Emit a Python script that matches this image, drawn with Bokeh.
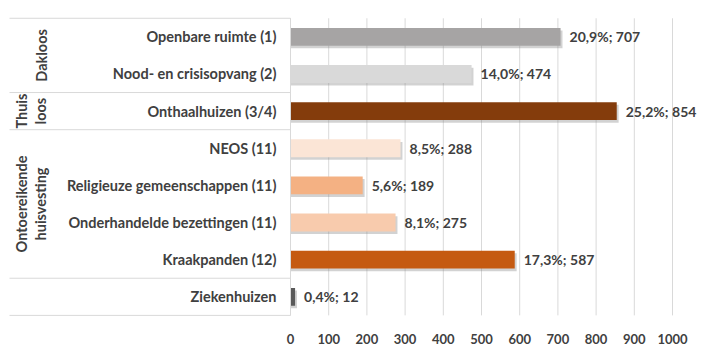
import math
from bokeh.plotting import figure
from bokeh.models import Range1d, FixedTicker, ColumnDataSource
from bokeh.core.properties import value
from bokeh.embed import file_html
from bokeh.resources import INLINE

# ---- data ----
categories = ["Openbare ruimte (1)", "Nood- en crisisopvang (2)", "Onthaalhuizen (3/4)",
              "NEOS (11)", "Religieuze gemeenschappen (11)", "Onderhandelde bezettingen (11)",
              "Kraakpanden (12)", "Ziekenhuizen"]
values = [707, 474, 854, 288, 189, 275, 587, 12]
percents = ["20,9%", "14,0%", "25,2%", "8,5%", "5,6%", "8,1%", "17,3%", "0,4%"]
colors = ["#A6A4A4", "#D9D9D9", "#843C0C", "#FBE5D6", "#F4B183", "#F8CBAD", "#C55A11", "#595959"]
groups = ["Dakloos", "Thuis\nloos", "Ontoereikende\nhuisvesting", ""]
group_sizes = [2, 1, 4, 1]
x_ticks = [0, 100, 200, 300, 400, 500, 600, 700, 800, 900, 1000]

FONT = "Lato"
TXT = "#404040"
LBL_SIZE = "14.5px"

# ---- layout helpers ----
W, H = 702, 346
zero_px = 290.0
px_per_unit = 0.382
row_h = 37.6
top_px = 18.0
frame_h = 325

x_start = -zero_px / px_per_unit
x_end = (W - zero_px) / px_per_unit
y_top = -top_px / row_h
y_bottom = (frame_h - top_px) / row_h

n = len(categories)
ypos = [i + 0.5 for i in range(n)]

p = figure(width=W, height=H, output_backend="svg", toolbar_location=None,
           x_range=Range1d(x_start, x_end), y_range=Range1d(y_bottom, y_top),
           min_border_left=0, min_border_right=0, min_border_top=0,
           min_border_bottom=H - frame_h)
p.outline_line_color = None
p.background_fill_color = "white"
p.border_fill_color = "white"
p.xgrid.visible = False
p.ygrid.visible = False
p.yaxis.visible = False

ax = p.xaxis[0]
ax.ticker = FixedTicker(ticks=x_ticks)
ax.axis_line_color = None
ax.major_tick_line_color = None
ax.minor_tick_line_color = None
ax.major_label_text_font = FONT
ax.major_label_text_font_style = "bold"
ax.major_label_text_font_size = "13px"
ax.major_label_text_color = TXT
ax.major_label_standoff = 6

# gridlines (only across the rows)
p.segment(x0=x_ticks, y0=[0] * len(x_ticks), x1=x_ticks, y1=[n] * len(x_ticks),
          line_color="#D9D9D9", line_width=1)

# table separators
bounds = [0]
for s in group_sizes:
    bounds.append(bounds[-1] + s)
left_edge = x_start + 9 / px_per_unit
p.segment(x0=[left_edge] * len(bounds), y0=bounds, x1=[0] * len(bounds), y1=bounds,
          line_color="#D9D9D9", line_width=1)

src = ColumnDataSource(dict(y=ypos, v=values, c=colors,
                            lab=[f"{a}; {b}" for a, b in zip(percents, values)],
                            cat=categories))
# shadows
p.hbar(y=[y + 0.07 for y in ypos], left=0, right=[v + 5 for v in values], height=0.48,
       fill_color="#7F7F7F", fill_alpha=0.35, line_color=None)
p.hbar(y="y", left=0, right="v", height=0.48, fill_color="c", line_color=None, source=src)

# value labels
p.text(x="v", y="y", text="lab", source=src, x_offset=9, text_align="left",
       text_baseline="middle", text_font=value(FONT), text_font_style="bold",
       text_font_size="14px", text_color=TXT)

# category labels
p.text(x=0, y="y", text="cat", source=src, x_offset=-14, text_align="right",
       text_baseline="middle", text_font=value(FONT), text_font_style="bold",
       text_font_size=LBL_SIZE, text_color=TXT)

# group labels
gy = [(bounds[i] + bounds[i + 1]) / 2 for i in range(len(groups))]
p.text(x=[0] * len(groups), y=gy, text=groups, x_offset=-241, angle=math.pi / 2,
       text_align="center", text_baseline="bottom", text_font=value(FONT),
       text_font_style="bold", text_font_size=LBL_SIZE, text_color=TXT,
       text_line_height=1.15)

# zero line
p.segment(x0=[0], y0=[0], x1=[0], y1=[n], line_color="#D9D9D9", line_width=1)

open("out.html", "w").write(file_html(p, INLINE))
